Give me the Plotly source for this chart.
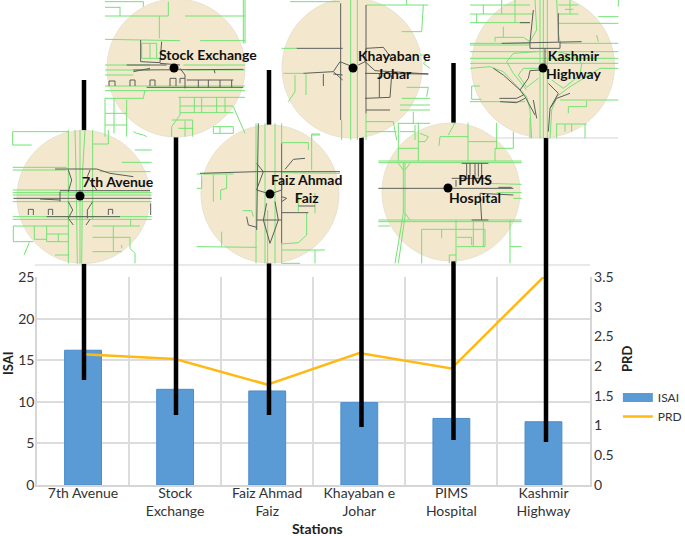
import plotly.graph_objects as go

W = 685
H = 536

stations = ["7th Avenue", "Stock<br>Exchange", "Faiz Ahmad<br>Faiz", "Khayaban e<br>Johar", "PIMS<br>Hospital", "Kashmir<br>Highway"]
isai = [16.2, 11.5, 11.3, 9.9, 8.0, 7.6]
prd = [2.2, 2.12, 1.69, 2.22, 1.96, 3.5]

# map insets, page pixels
circle_x = [83.5, 176, 270, 352, 451, 543]
circle_y = [197, 68, 194, 68, 192, 66]
circle_d = [133, 138, 138, 140, 138, 143]
dot_x = [80, 174, 270, 353, 448, 543]
dot_y = [196, 68, 194, 68, 188, 68]

stem_x = [84, 176, 269, 361.5, 453.5, 546]
stem_top = [80, 100, 70, 100, 63, 100]
stem_bottom = [380, 415, 415, 427, 440, 442]

label_text = ["7th Avenue", "Stock Exchange", "Faiz Ahmad<br>Faiz", "Khayaban e<br>Johar", "PIMS<br>Hospital", "Kashmir<br>Highway"]
label_x = [118, 208, 306, 394, 475, 574]
label_y = [181, 54, 188, 64, 188, 64]

# titles placed by hand, they are off centre from the axes in the reference
title_text = ["Stations", "ISAI", "PRD"]
title_x = [317, 8, 627]
title_y = [528, 363, 359]
title_angle = [0, -90, -90]
title_size = [14, 13, 13]

crop1 = (0, 120)
crop2 = (100, 0)
crop6 = (280, 0)
crop3 = (370, 0)

# thin grey edges of the pasted pictures
frame_lines = [[(35, 265), (590, 265)], [(470, 138), (618, 138)]]

seventh_green = [
    [(95, 75), (38, 75), (38, 35), (205, 35)], [(205, 30), (205, 430)], [(225, 30), (228, 150), (232, 430)],
    [(240, 30), (240, 430)], [(255, 30), (248, 150), (245, 430)], [(278, 30), (278, 300)], [(278, 72), (325, 72), (325, 30)],
    [(365, 127), (455, 127)], [(405, 90), (455, 90)], [(38, 142), (200, 142)], [(38, 150), (200, 150)], [(300, 155), (452, 155)],
    [(38, 210), (205, 210)], [(38, 218), (455, 218)], [(38, 225), (455, 225)], [(38, 245), (455, 245)], [(38, 290), (455, 290)], [(38, 298), (455, 298)],
    [(40, 318), (40, 365), (100, 365)], [(40, 318), (205, 318)], [(103, 318), (103, 358), (140, 358)], [(140, 318), (140, 365)],
    [(140, 342), (205, 342)], [(140, 365), (205, 365)], [(175, 342), (175, 365)], [(72, 405), (88, 367)], [(165, 405), (205, 405)],
    [(278, 352), (390, 352), (390, 385), (405, 400), (405, 430)], [(278, 318), (420, 318)], [(340, 318), (340, 395)],
    [(278, 395), (365, 395)], [(365, 375), (365, 385)], [(392, 298), (392, 318)],
]
seventh_dark = [
    [(165, 147), (290, 147), (330, 160), (400, 170)], [(205, 150), (215, 180), (205, 215)], [(270, 150), (262, 170), (290, 210)],
    [(40, 235), (455, 235)], [(120, 237), (180, 240)], [(180, 215), (180, 245)], [(205, 245), (218, 270), (205, 295)],
    [(278, 245), (262, 270), (262, 295)], [(140, 290), (360, 290)], [(85, 285), (85, 268), (100, 268), (100, 285)],
    [(145, 285), (145, 268), (158, 268), (158, 285)], [(325, 285), (325, 268), (338, 268), (338, 282)], [(452, 250), (452, 285)],
    [(205, 295), (220, 315)], [(258, 315), (270, 298)], [(180, 212), (450, 212)],
]
faiz_green = [
    [(590, 162), (700, 162)], [(605, 165), (605, 205), (590, 205)], [(640, 165), (640, 245)], [(680, 165), (680, 205), (662, 210), (662, 240)],
    [(768, 10), (768, 430)], [(795, 10), (795, 430)], [(825, 10), (825, 430)], [(803, 270), (803, 430)], [(845, 10), (845, 70)], [(845, 370), (845, 430)],
    [(845, 68), (925, 68), (925, 90)], [(960, 42), (935, 42), (935, 150)], [(728, 272), (755, 272), (760, 290)], [(665, 335), (665, 380)],
    [(590, 380), (770, 382)], [(920, 278), (920, 345), (895, 368), (845, 372)], [(845, 390), (975, 390)], [(845, 430), (900, 430)],
    [(945, 390), (945, 430)], [(895, 220), (895, 275)], [(945, 220), (945, 280)], [(845, 158), (1020, 160)],
]
faiz_dark = [
    [(600, 160), (770, 155), (1020, 155)], [(775, 10), (770, 330)], [(845, 70), (845, 370)], [(855, 148), (880, 118), (915, 115)],
    [(770, 130), (790, 155), (775, 195), (770, 210), (810, 222), (845, 210), (845, 190)], [(800, 250), (790, 300), (810, 370)],
    [(825, 245), (835, 300), (810, 370)], [(770, 300), (845, 300)], [(740, 290), (745, 315), (770, 322)], [(845, 278), (925, 278)],
    [(845, 230), (860, 235), (845, 245)], [(895, 258), (945, 258)],
]
stock_green = [
    [(15, 5), (130, 5), (130, 20)], [(15, 48), (205, 48)], [(205, 5), (205, 48)], [(60, 20), (60, 48)], [(15, 22), (60, 22)], [(178, 48), (178, 115)],
    [(255, 48), (435, 48)], [(430, 0), (430, 130)], [(435, 0), (435, 130)], [(15, 118), (240, 122)], [(300, 122), (435, 122)],
    [(15, 195), (150, 195)], [(15, 210), (150, 210)], [(250, 195), (435, 195)], [(15, 225), (100, 225)], [(260, 210), (435, 210)],
    [(15, 258), (435, 258)], [(15, 272), (435, 272)], [(15, 295), (130, 295), (135, 270)], [(235, 292), (435, 292)], [(15, 295), (15, 410)],
    [(15, 340), (80, 340)], [(42, 295), (42, 400)], [(15, 375), (80, 375)], [(80, 300), (80, 410)], [(240, 292), (240, 345), (215, 380), (215, 410)],
    [(240, 318), (400, 318)], [(240, 338), (400, 338)], [(283, 292), (283, 338)], [(305, 292), (305, 338)], [(350, 292), (350, 338)], [(375, 292), (375, 338)],
    [(400, 320), (435, 400)], [(215, 360), (278, 360), (278, 410)], [(255, 362), (255, 410)], [(235, 385), (280, 385)],
    [(340, 380), (400, 380), (400, 400), (340, 400), (340, 380)], [(360, 380), (360, 400)], [(100, 395), (110, 400), (130, 405), (140, 410)],
    [(125, 130), (125, 175), (180, 175)], [(150, 130), (150, 175)], [(170, 130), (170, 175)], [(125, 130), (170, 130)],
]
stock_dark = [
    [(122, 120), (122, 185), (180, 188), (185, 125)], [(80, 195), (200, 195)], [(100, 210), (430, 208)], [(240, 205), (255, 225), (255, 265)],
    [(140, 262), (430, 262)], [(260, 240), (400, 240)], [(295, 240), (295, 262)], [(325, 240), (325, 262)], [(360, 240), (360, 262)], [(395, 240), (395, 262)],
    [(27, 258), (27, 243), (45, 243), (45, 258)], [(90, 258), (90, 240), (105, 240), (105, 258)], [(150, 258), (150, 240), (165, 240), (165, 258)],
    [(210, 258), (210, 235), (228, 235), (228, 258)], [(240, 250), (240, 235), (255, 235)], [(180, 190), (240, 195)], [(100, 215), (150, 205)], [(342, 208), (345, 220)],
]
khayaban_green = [
    [(30, 5), (180, 5)], [(212, 0), (212, 420)], [(232, 0), (232, 420)], [(258, 15), (445, 15)], [(380, 0), (380, 15)], [(430, 15), (425, 95), (365, 95)],
    [(5, 145), (50, 145)], [(420, 165), (450, 165)], [(440, 180), (430, 190), (450, 205)], [(10, 220), (70, 220)], [(45, 225), (45, 275), (25, 305)],
    [(78, 222), (78, 285)], [(380, 262), (445, 262), (440, 290)], [(365, 295), (450, 295)], [(360, 315), (450, 315)], [(360, 330), (450, 330)],
    [(258, 365), (340, 365), (350, 420)], [(258, 395), (350, 395)], [(355, 370), (450, 370)], [(400, 335), (400, 370)], [(360, 395), (405, 395)],
    [(405, 375), (405, 420)], [(185, 360), (185, 420)], [(95, 420), (95, 405), (120, 405)], [(258, 340), (258, 420)],
]
khayaban_dark = [
    [(182, 10), (182, 360)], [(258, 15), (258, 340)], [(50, 145), (188, 145)], [(70, 220), (160, 215), (180, 185), (212, 198)], [(160, 215), (188, 240)],
    [(160, 222), (188, 225)], [(235, 195), (255, 185), (285, 212), (445, 222)], [(255, 220), (445, 222)], [(255, 185), (258, 145), (310, 142), (335, 175)],
    [(130, 222), (130, 258)], [(255, 295), (330, 292), (335, 225)], [(298, 222), (298, 292)], [(258, 330), (330, 330)],
]
kashmir_green = [
    [(510, 0), (510, 415)], [(520, 0), (520, 415)], [(532, 0), (532, 415)], [(495, 0), (500, 90), (480, 125)], [(560, 0), (565, 100), (570, 125)],
    [(300, 155), (745, 155)], [(300, 175), (745, 175)], [(300, 190), (745, 190)], [(300, 205), (360, 200), (400, 215), (470, 290), (480, 330), (485, 415)],
    [(745, 205), (690, 205), (600, 260), (560, 290), (545, 330), (540, 415)], [(300, 15), (480, 15)], [(300, 42), (490, 42)], [(300, 68), (480, 68)],
    [(340, 15), (340, 42)], [(395, 0), (395, 42)], [(435, 0), (435, 68)], [(320, 42), (320, 68)], [(375, 125), (375, 112), (460, 112), (480, 125)], [(400, 80), (400, 112)],
    [(300, 130), (480, 130)], [(570, 130), (745, 130)], [(300, 135), (480, 135)], [(565, 15), (625, 15)], [(565, 42), (625, 42)], [(585, 28), (610, 28)], [(600, 0), (600, 42)],
    [(565, 70), (745, 70)], [(685, 50), (745, 50)], [(745, 0), (745, 20)], [(680, 105), (685, 125)], [(500, 155), (430, 160), (410, 185), (430, 220), (470, 270)],
    [(505, 205), (460, 205), (445, 225), (470, 262), (505, 235)], [(545, 240), (580, 265), (630, 225), (635, 190), (610, 165), (560, 155)],
    [(335, 298), (305, 298), (305, 258), (330, 258)], [(300, 305), (465, 305)], [(745, 300), (570, 300)], [(595, 340), (595, 320), (650, 320), (650, 303)],
    [(560, 372), (650, 372)], [(605, 372), (605, 395)], [(645, 372), (645, 415)], [(480, 355), (480, 415)], [(560, 370), (560, 415)], [(585, 372), (585, 395)],
]
kashmir_dark = [
    [(395, 130), (635, 125)], [(480, 125), (480, 145), (570, 145), (570, 125)], [(480, 125), (490, 40), (490, 30)], [(480, 68), (450, 68)], [(565, 40), (565, 125)],
    [(525, 145), (525, 190), (520, 203)], [(510, 210), (480, 212), (475, 235), (450, 270), (465, 290), (495, 345)], [(388, 295), (440, 295), (460, 285)],
    [(390, 305), (440, 308), (465, 295)], [(370, 205), (400, 225), (450, 270)], [(535, 250), (565, 280), (540, 325), (535, 395)], [(600, 280), (560, 295), (540, 325)],
    [(490, 300), (500, 355)],
]
pims_green = [
    [(25, 483), (455, 483)], [(25, 488), (455, 488)], [(85, 368), (85, 483)], [(145, 368), (145, 483)], [(85, 445), (145, 445)], [(100, 488), (100, 640), (75, 790)],
    [(105, 488), (105, 650), (85, 790)], [(120, 490), (105, 510)], [(85, 490), (100, 510)], [(105, 640), (120, 660)], [(25, 660), (455, 660)], [(25, 665), (455, 665)],
    [(25, 678), (60, 678)], [(155, 790), (155, 688), (345, 688), (345, 740), (260, 740)], [(215, 688), (215, 715)], [(258, 660), (258, 790)], [(310, 665), (310, 740)],
    [(340, 665), (340, 740)], [(420, 660), (420, 790)], [(420, 740), (455, 740)], [(238, 790), (238, 765), (258, 765)], [(260, 712), (305, 712), (305, 735)],
    [(294, 368), (294, 483)], [(375, 483), (375, 445), (430, 445), (430, 395)], [(380, 368), (380, 445)], [(207, 438), (210, 410), (295, 410)], [(295, 425), (380, 425)],
    [(235, 405), (255, 368)], [(150, 400), (175, 410), (165, 425), (145, 425)], [(340, 550), (455, 553)], [(380, 578), (455, 578)], [(430, 595), (455, 595)],
]
pims_dark = [
    [(25, 565), (225, 565)], [(245, 565), (430, 565)], [(245, 535), (360, 535)], [(275, 490), (355, 490)], [(290, 490), (290, 530)], [(300, 490), (300, 530)],
    [(315, 490), (315, 530)], [(325, 490), (325, 530)], [(335, 490), (335, 530)], [(385, 562), (425, 562)], [(330, 580), (430, 585)], [(330, 580), (335, 660)],
    [(305, 660), (355, 660)], [(258, 540), (258, 560)],
]

green_groups = [(crop1, seventh_green), (crop1, faiz_green), (crop2, stock_green), (crop6, khayaban_green), (crop3, kashmir_green), (crop3, pims_green)]
dark_groups = [(crop1, seventh_dark), (crop1, faiz_dark), (crop2, stock_dark), (crop6, khayaban_dark), (crop3, kashmir_dark), (crop3, pims_dark)]


def road_xy(groups):
    xs, ys = [], []
    for (ox, oy), paths in groups:
        for path in paths:
            xs += [ox + p[0] / 3 for p in path] + [None]
            ys += [oy + p[1] / 3 for p in path] + [None]
    return xs, ys


fig = go.Figure()

fig.add_trace(go.Bar(x=stations, y=isai, name="ISAI", width=0.4, showlegend=False, marker_color="#5B9BD5", marker_line_color="#4A8CCB", marker_line_width=1))
# plotly's bar swatch is a small square, a thick empty line gives the wide one
fig.add_trace(go.Scatter(x=[None], y=[None], name="ISAI", mode="lines", line=dict(color="#5B9BD5", width=9), hoverinfo="skip"))
fig.add_trace(go.Scatter(x=stations, y=prd, name="PRD", mode="lines", yaxis="y2", line=dict(color="#FFB914", width=2.5)))

fx = []
fy = []
for line in frame_lines:
    fx += [p[0] for p in line] + [None]
    fy += [p[1] for p in line] + [None]
fig.add_trace(go.Scatter(x=fx, y=fy, xaxis="x3", yaxis="y3", mode="lines", showlegend=False, hoverinfo="skip",
                         line=dict(color="#E2E2E2", width=1.5)))

# the stems sit behind the circles, same as the pasted map images
stem_xs, stem_ys = [], []
for x, top, bottom in zip(stem_x, stem_top, stem_bottom):
    stem_xs += [x, x, None]
    stem_ys += [top, bottom, None]
fig.add_trace(go.Scatter(x=stem_xs, y=stem_ys, xaxis="x3", yaxis="y3", mode="lines", showlegend=False, hoverinfo="skip",
                         line=dict(color="black", width=4.5)))
fig.add_trace(go.Scatter(x=circle_x, y=circle_y, xaxis="x3", yaxis="y3", mode="markers", showlegend=False, hoverinfo="skip",
                         marker=dict(size=circle_d, color="#F3E8CD", opacity=1, line=dict(color="#E8E2D0", width=1))))

xs, ys = road_xy(green_groups)
fig.add_trace(go.Scatter(x=xs, y=ys, xaxis="x3", yaxis="y3", mode="lines", showlegend=False, hoverinfo="skip",
                         line=dict(color="#74E274", width=1)))
xs, ys = road_xy(dark_groups)
fig.add_trace(go.Scatter(x=xs, y=ys, xaxis="x3", yaxis="y3", mode="lines", showlegend=False, hoverinfo="skip",
                         line=dict(color="#5A5F58", width=1)))
fig.add_trace(go.Scatter(x=dot_x, y=dot_y, xaxis="x3", yaxis="y3", mode="markers", showlegend=False, hoverinfo="skip",
                         marker=dict(size=9, color="black")))

for text, x, y in zip(label_text, label_x, label_y):
    fig.add_annotation(x=x, y=y, xref="x3", yref="y3", text="<b>%s</b>" % text, showarrow=False,
                       font=dict(size=14, color="#111111"), xanchor="center", yanchor="middle")

for text, x, y, angle, size in zip(title_text, title_x, title_y, title_angle, title_size):
    fig.add_annotation(x=x, y=y, xref="x3", yref="y3", text="<b>%s</b>" % text, showarrow=False, textangle=angle,
                       font=dict(size=size, color="#222222"), xanchor="center", yanchor="middle")

fig.update_layout(
    width=W,
    height=H,
    margin=dict(l=0, r=0, t=0, b=0, autoexpand=False),
    paper_bgcolor="white",
    plot_bgcolor="rgba(0,0,0,0)",
    font=dict(family="Lato", size=14, color="#333333"),
    showlegend=True,
    legend=dict(x=0.902, y=0.2855, xanchor="left", yanchor="top", font=dict(size=12)),
    xaxis=dict(domain=[37 / W, 589.5 / W], anchor="y", type="category", tickson="boundaries", ticks="", ticklabelstandoff=-6, showgrid=True,
               gridcolor="#DCDCDC", gridwidth=1.5, showline=True, linecolor="#D6D6D6", linewidth=1.5),
    yaxis=dict(domain=[(H - 485) / H, (H - 277) / H], anchor="x", range=[0, 25], dtick=5, ticklabelstandoff=-2, showgrid=True, gridcolor="#DCDCDC", gridwidth=1.5,
               showline=True, linecolor="#D6D6D6", linewidth=1.5, zeroline=False),
    yaxis2=dict(overlaying="y", anchor="x", side="right", range=[0, 3.5], dtick=0.5, showgrid=False, zeroline=False,
                showline=True, linecolor="#D6D6D6", linewidth=1.5),
    xaxis3=dict(domain=[0, 1], anchor="y3", range=[0, W], visible=False, fixedrange=True),
    yaxis3=dict(domain=[0, 1], anchor="x3", range=[H, 0], visible=False, fixedrange=True),
)

fig.write_html("out.html", config=dict(displayModeBar=False), post_script="document.body.style.margin='0';")
